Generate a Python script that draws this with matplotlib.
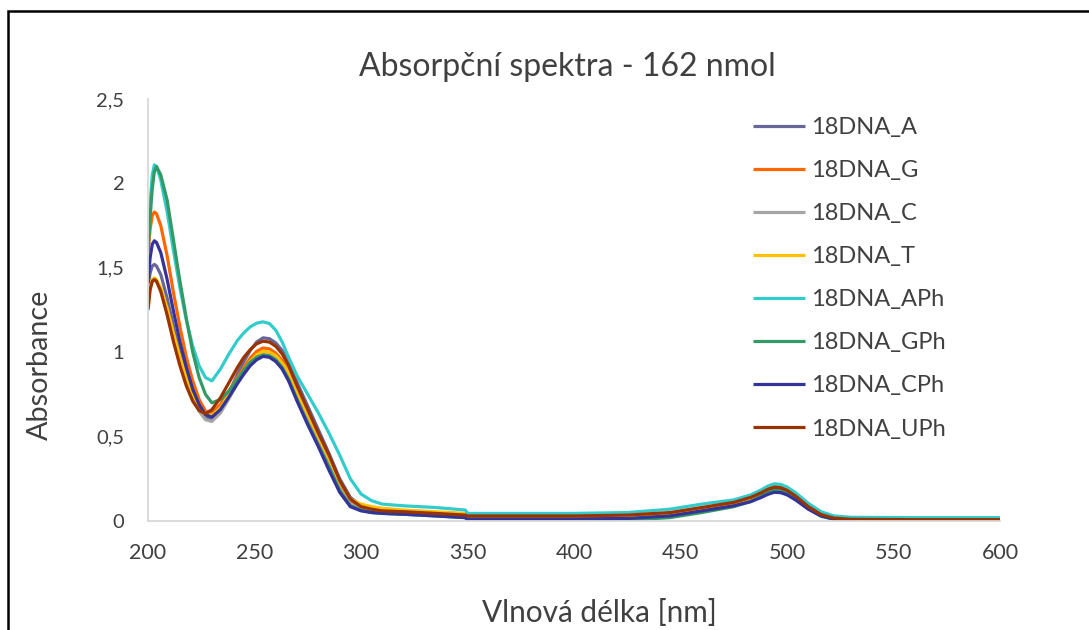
import matplotlib
matplotlib.use("Agg")
import matplotlib.pyplot as plt
from matplotlib.patches import Rectangle

plt.rcParams['font.family'] = ['Lato', 'DejaVu Sans']

# wavelengths [nm]
wl = [200, 201, 202, 203, 204, 206, 209, 212, 215, 218, 221, 224, 227, 230,
      234, 238, 242, 245, 248, 251, 254, 257, 260, 263, 266, 270, 275, 280,
      285, 290, 295, 300, 305, 310, 320, 335, 349, 350, 370, 400, 425, 445,
      460, 475, 483, 488, 491, 494, 497, 500, 504, 510, 516, 522, 530, 560, 600]

names = ["18DNA_A", "18DNA_G", "18DNA_C", "18DNA_T",
         "18DNA_APh", "18DNA_GPh", "18DNA_CPh", "18DNA_UPh"]
colors = ["#666699", "#FF6600", "#A5A5A5", "#FFC000",
          "#33CCCC", "#339966", "#333399", "#993300"]

a_A = [1.38, 1.47, 1.51, 1.52, 1.51, 1.46, 1.32, 1.15, 0.99, 0.86, 0.75, 0.66, 0.61, 0.60,
       0.66, 0.76, 0.87, 0.945, 1.01, 1.06, 1.085, 1.08, 1.055, 1.01, 0.94, 0.82, 0.68, 0.54,
       0.40, 0.25, 0.14, 0.09, 0.07, 0.06, 0.055, 0.045, 0.035, 0.02, 0.02, 0.02, 0.025, 0.04,
       0.07, 0.10, 0.125, 0.15, 0.168, 0.18, 0.178, 0.165, 0.135, 0.077, 0.034, 0.014, 0.008,
       0.006, 0.006]
a_G = [1.59, 1.73, 1.81, 1.83, 1.82, 1.75, 1.57, 1.35, 1.15, 0.97, 0.83, 0.72, 0.65, 0.64,
       0.69, 0.77, 0.85, 0.91, 0.965, 1.005, 1.025, 1.02, 0.995, 0.95, 0.88, 0.76, 0.62, 0.49,
       0.36, 0.22, 0.12, 0.08, 0.065, 0.055, 0.05, 0.04, 0.03, 0.02, 0.02, 0.022, 0.028, 0.045,
       0.075, 0.11, 0.14, 0.17, 0.195, 0.21, 0.207, 0.19, 0.155, 0.09, 0.04, 0.018, 0.01,
       0.008, 0.008]
a_C = [1.30, 1.39, 1.42, 1.43, 1.42, 1.37, 1.24, 1.09, 0.95, 0.83, 0.72, 0.65, 0.60, 0.59,
       0.64, 0.725, 0.815, 0.88, 0.935, 0.975, 0.995, 0.99, 0.965, 0.92, 0.85, 0.73, 0.59, 0.46,
       0.33, 0.19, 0.10, 0.07, 0.055, 0.05, 0.045, 0.035, 0.025, 0.015, 0.015, 0.015, 0.02, 0.035,
       0.065, 0.095, 0.125, 0.155, 0.177, 0.19, 0.187, 0.173, 0.14, 0.08, 0.035, 0.015, 0.008,
       0.006, 0.006]
a_T = [1.28, 1.39, 1.43, 1.44, 1.43, 1.38, 1.26, 1.11, 0.97, 0.85, 0.755, 0.68, 0.635, 0.625,
       0.67, 0.75, 0.84, 0.895, 0.945, 0.985, 1.005, 1.00, 0.98, 0.935, 0.88, 0.76, 0.63, 0.50,
       0.37, 0.23, 0.13, 0.10, 0.085, 0.075, 0.065, 0.055, 0.045, 0.025, 0.025, 0.025, 0.03, 0.045,
       0.075, 0.105, 0.135, 0.165, 0.187, 0.20, 0.197, 0.182, 0.148, 0.085, 0.038, 0.017, 0.01,
       0.008, 0.008]
a_APh = [1.62, 1.88, 2.05, 2.11, 2.10, 2.02, 1.83, 1.60, 1.38, 1.19, 1.035, 0.92, 0.85, 0.83,
         0.90, 0.99, 1.07, 1.115, 1.15, 1.172, 1.18, 1.17, 1.13, 1.06, 0.97, 0.86, 0.75, 0.64,
         0.52, 0.39, 0.25, 0.16, 0.12, 0.10, 0.09, 0.08, 0.065, 0.045, 0.045, 0.045, 0.05, 0.07,
         0.10, 0.125, 0.155, 0.185, 0.207, 0.22, 0.217, 0.202, 0.168, 0.105, 0.055, 0.03, 0.022,
         0.02, 0.02]
a_GPh = [1.60, 1.80, 1.97, 2.07, 2.10, 2.05, 1.90, 1.66, 1.42, 1.20, 1.00, 0.85, 0.75, 0.70,
         0.72, 0.77, 0.84, 0.895, 0.94, 0.97, 0.983, 0.978, 0.955, 0.91, 0.84, 0.72, 0.58, 0.45,
         0.32, 0.18, 0.09, 0.065, 0.05, 0.045, 0.04, 0.03, 0.02, 0.0, 0.0, 0.0, 0.005, 0.02,
         0.05, 0.085, 0.115, 0.15, 0.172, 0.185, 0.182, 0.167, 0.133, 0.072, 0.028, 0.01, 0.004,
         0.002, 0.002]
a_CPh = [1.41, 1.56, 1.64, 1.66, 1.65, 1.59, 1.43, 1.24, 1.06, 0.91, 0.78, 0.69, 0.63, 0.615,
         0.66, 0.735, 0.815, 0.87, 0.92, 0.955, 0.975, 0.97, 0.945, 0.90, 0.83, 0.71, 0.57, 0.44,
         0.30, 0.17, 0.085, 0.06, 0.05, 0.045, 0.04, 0.03, 0.02, 0.012, 0.012, 0.012, 0.015, 0.03,
         0.06, 0.09, 0.115, 0.14, 0.158, 0.17, 0.168, 0.155, 0.125, 0.07, 0.03, 0.012, 0.005,
         0.003, 0.003]
a_UPh = [1.25, 1.37, 1.42, 1.43, 1.42, 1.36, 1.22, 1.06, 0.92, 0.80, 0.71, 0.655, 0.635, 0.66,
         0.73, 0.82, 0.91, 0.97, 1.015, 1.05, 1.065, 1.06, 1.035, 0.99, 0.92, 0.80, 0.66, 0.52,
         0.39, 0.24, 0.13, 0.085, 0.07, 0.06, 0.055, 0.045, 0.035, 0.03, 0.03, 0.03, 0.035, 0.05,
         0.08, 0.11, 0.14, 0.168, 0.188, 0.20, 0.197, 0.182, 0.148, 0.085, 0.038, 0.017, 0.01,
         0.008, 0.008]

series = [a_A, a_G, a_C, a_T, a_APh, a_GPh, a_CPh, a_UPh]


def main():
    fig = plt.figure(figsize=(10.89, 6.30), dpi=100)
    ax = fig.add_axes([148/1089, 109/630, 852/1089, 422/630])

    for y, name, c in zip(series, names, colors):
        ax.plot(wl, y, color=c, lw=2.3, label=name, solid_capstyle='butt',
                solid_joinstyle='round')

    ax.set_xlim(200, 600)
    ax.set_ylim(0, 2.5)
    ax.set_xticks(range(200, 601, 50))
    ax.set_yticks([0, 0.5, 1, 1.5, 2, 2.5])
    ax.set_yticklabels(["0", "0,5", "1", "1,5", "2", "2,5"])
    for s in ["top", "right"]:
        ax.spines[s].set_visible(False)
    for s in ["left", "bottom"]:
        ax.spines[s].set_color("#D9D9D9")
        ax.spines[s].set_linewidth(1.3)
    ax.tick_params(length=0, labelcolor="#404040")
    ax.tick_params(axis="x", pad=16, labelsize=15.5)
    ax.tick_params(axis="y", pad=17, labelsize=14.5)

    fig.text(567/1089, 1 - 67/630, "Absorpční spektra - 162 nmol",
             ha="center", va="center", fontsize=23, color="#404040")
    fig.text(599/1089, 1 - 613/630, "Vlnová délka [nm]",
             ha="center", va="center", fontsize=21.4, color="#404040")
    fig.text(40/1089, 1 - 365/630, "Absorbance", rotation=90,
             ha="center", va="center", fontsize=20.7, color="#404040")

    leg = ax.legend(loc="upper left", bbox_to_anchor=(753/1089, 1 - 117/630),
                    bbox_transform=fig.transFigure, frameon=False, fontsize=17,
                    handlelength=2.2, handletextpad=0.25, labelspacing=0.935,
                    borderpad=0, borderaxespad=0)
    for t in leg.get_texts():
        t.set_color("#404040")

    # chart frame (cut off on the right and bottom)
    fig.patches.append(Rectangle((8/1089, -0.2), 1.5, 1.2 - 11/630,
                                 transform=fig.transFigure, fill=False,
                                 edgecolor="black", lw=1.8))

    fig.savefig("out.png", dpi=100)


if __name__ == "__main__":
    main()
